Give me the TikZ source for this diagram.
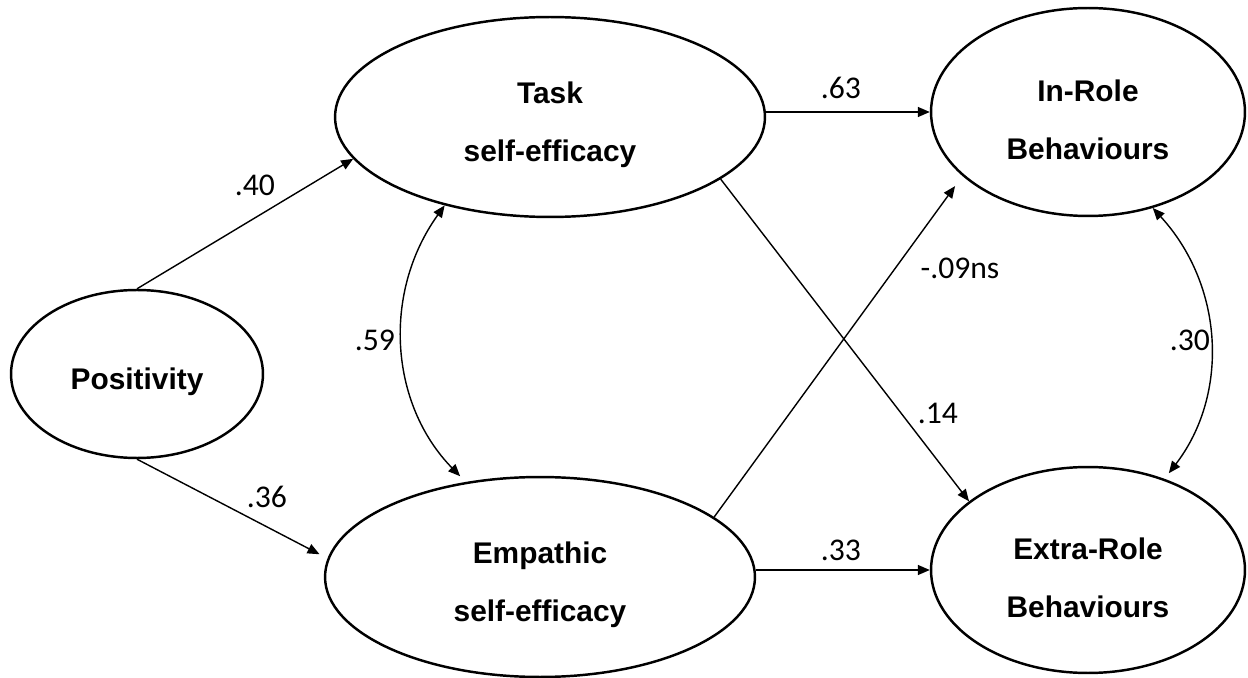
\documentclass[tikz,border=0pt]{standalone}
\usepackage{fontspec}
\setmainfont{Liberation Sans}
\newfontfamily\numfont{Carlito}
\usetikzlibrary{shapes.geometric,arrows.meta}
\newcommand{\lift}{\rule{0pt}{21.5pt}}
\tikzset{
	var/.style 2 args={ellipse,draw,line width=1.4pt,inner sep=0pt,minimum width=#1,minimum height=#2,align=center,font=\bfseries\fontsize{17pt}{33pt}\selectfont},
	path/.style={line width=0.8pt,-{Triangle[length=0.24cm,width=0.2cm]}},
	cov/.style={line width=0.8pt,{Triangle[length=0.24cm,width=0.2cm]}-{Triangle[length=0.24cm,width=0.2cm]}},
	coef/.style={font=\numfont\fontsize{18pt}{20pt}\selectfont,inner sep=0pt}
}
\begin{document}
\begin{tikzpicture}[x=0.02cm,y=0.02cm]
	\useasboundingbox (0,0) rectangle (1248,677);

	\node [var={5.04cm}{3.36cm}] (pos) at (137,303) {\lift Positivity};
	\node [var={8.6cm}{4cm}] (task) at (550,560) {\lift Task\\self-efficacy};
	\node [var={8.6cm}{4cm}] (emp) at (540,100) {\lift Empathic\\self-efficacy};
	\node [var={6.28cm}{4.16cm}] (inrole) at (1088,565) {\lift In-Role\\Behaviours};
	\node [var={6.28cm}{4.12cm}] (extra) at (1088,107) {\lift Extra-Role\\Behaviours};

	\draw [path] (pos.north) -- (task.192);
	\draw [path, shorten >=0.18cm] (pos.south) -- (emp.175);
	\draw [path] (task.east |- inrole.west) -- (inrole.west);
	\draw [path] (emp.east |- extra.west) -- (extra.west);
	\draw [path] (task.340) -- (extra.150);
	\draw [path, shorten >=0.25cm] (emp.19) -- (inrole.207);
	\draw [cov, shorten >=0.16cm] (task.220) to [bend right=40] (emp.128);
	\draw [cov, shorten >=0.14cm] (inrole.304) to [bend left=40] (extra.50);

	\node [coef] (c40) at (255,492) {.40};
	\node [coef] (c36) at (267,180) {.36};
	\node [coef] (c63) at (841,589) {.63};
	\node [coef] (c33) at (841,127) {.33};
	\node [coef] (c14) at (938,264) {.14};
	\node [coef] (c09) at (960,409) {-.09ns};
	\node [coef] (c59) at (375,337) {.59};
	\node [coef] (c30) at (1190,337) {.30};
\end{tikzpicture}
\end{document}
